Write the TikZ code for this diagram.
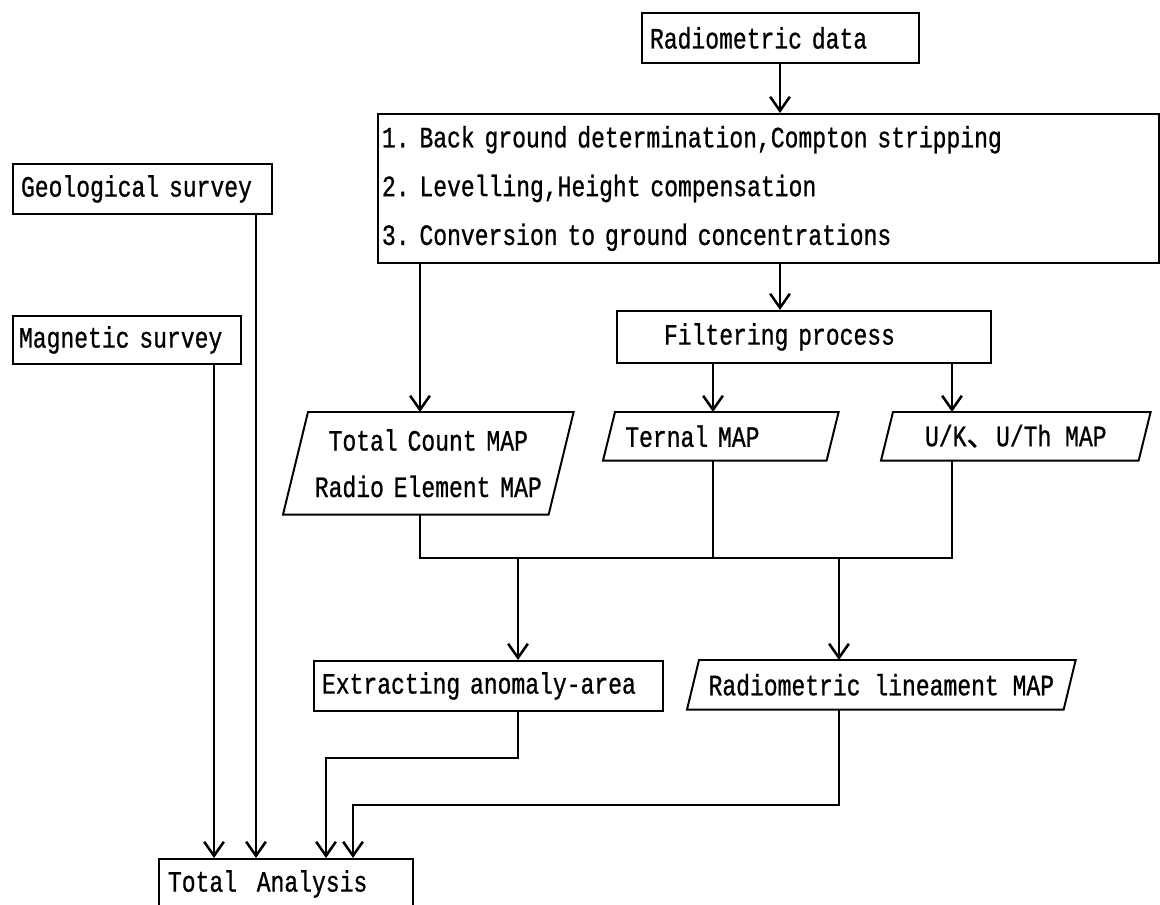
\documentclass[tikz,border=0pt]{standalone}
\usepackage{fontspec}
\usetikzlibrary{arrows.meta,calc}
\newfontfamily\diag[FakeStretch=0.78,FakeBold=0.8]{Liberation Mono}
\newfontfamily\cjk[FakeBold=0.8]{Noto Sans CJK JP}
\newcommand\paral[2]{\draw[boxline] ($(#1.north west)+(#2,0)$) -- (#1.north east) -- ($(#1.south east)-(#2,0)$) -- (#1.south west) -- cycle;}
\begin{document}
\begin{tikzpicture}[x=0.025cm,y=-0.025cm,
 tx/.style={font=\diag\fontsize{21pt}{25pt}\selectfont},
 bx/.style={tx, draw, line width=1.4pt, anchor=north west, inner ysep=0pt},
 pbox/.style={tx, draw=none, anchor=north west, inner ysep=0pt},
 boxline/.style={line width=1.4pt, line join=miter},
 ln/.style={line width=1.8pt},
 arr/.style={ln, -{Straight Barb[length=10pt,width=14pt]}}]

\useasboundingbox (0,0) rectangle (1160,905);
\fill[white] (0,0) rectangle (1160,905);
\clip (0,0) rectangle (1160,905);

\node[bx, minimum height=1.25cm, text width=6.525cm, inner xsep=0.2cm, align=left] (rd) at (641,12) {Radiometric data};
\node[bx, font=\diag\fontsize{21pt}{34.7pt}\selectfont, minimum height=3.725cm, text width=19.325cm, inner xsep=0.1cm, align=left] (proc) at (377,113) {1.~Back ground determination,Compton stripping\\2.~Levelling,Height compensation\\3.~Conversion to ground concentrations};
\node[bx, minimum height=1.25cm, text width=6.075cm, inner xsep=0.2cm, align=left] (geo) at (12,163) {Geological survey};
\node[bx, minimum height=1.2cm, text width=5.4cm, inner xsep=0.15cm, align=left] (mag) at (12,315) {Magnetic survey};
\node[bx, minimum height=1.3cm, text width=7cm, inner xsep=1.175cm, align=left] (filt) at (616,310) {Filtering process};
\node[pbox, minimum height=2.55cm, text width=7.25cm, inner xsep=0pt, align=center, font=\diag\fontsize{21pt}{33pt}\selectfont] (tc) at (283,412) {Total Count MAP\\Radio Element MAP};
\node[pbox, minimum height=1.2cm, text width=4.775cm, inner xsep=0.55cm, align=left] (ter) at (603,412) {Ternal MAP};
\node[pbox, minimum width=6.725cm, minimum height=1.2cm, inner xsep=0pt] (uk) at (881,412) {U/K{\cjk 、}U/Th MAP};
\node[bx, minimum height=1.25cm, text width=8.325cm, inner xsep=0.2cm, align=left] (ext) at (313,660) {Extracting anomaly-area};
\node[pbox, minimum width=9.7cm, minimum height=1.225cm, inner xsep=0pt] (lin) at (687,660) {Radiometric lineament MAP};
\node[bx, minimum height=1.25cm, text width=5.9cm, inner xsep=0.225cm, align=left] (tot) at (158,858) {Total~~Analysis};

\paral{tc}{25}
\paral{ter}{12}
\paral{uk}{12}
\paral{lin}{12}

\coordinate (fx) at (780,0);
\coordinate (gx) at (256,0);
\coordinate (mx) at (214,0);
\coordinate (jL) at (420,558);
\coordinate (jR) at (952,558);
\coordinate (jT) at (713,558);
\coordinate (jE) at (518,558);
\coordinate (jN) at (839,558);
\coordinate (e1) at (518,758);
\coordinate (e2) at (326,758);
\coordinate (l1) at (839,805);
\coordinate (l2) at (353,805);

\draw[arr] (rd.south -| fx) -- (proc.north -| fx);
\draw[arr] (proc.south -| jL) -- (tc.north -| jL);
\draw[arr] (proc.south -| fx) -- (filt.north -| fx);
\draw[arr] (filt.south -| jT) -- (ter.north -| jT);
\draw[arr] (filt.south -| jR) -- (uk.north -| jR);
\draw[ln] (tc.south -| jL) -- (jL) -- (jR) -- (uk.south -| jR);
\draw[ln] (ter.south -| jT) -- (jT);
\draw[arr] (jE) -- (ext.north -| jE);
\draw[arr] (jN) -- (lin.north -| jN);
\draw[arr] (ext.south -| e1) -- (e1) -- (e2) -- (tot.north -| e2);
\draw[arr] (lin.south -| l1) -- (l1) -- (l2) -- (tot.north -| l2);
\draw[arr] (geo.south -| gx) -- (tot.north -| gx);
\draw[arr] (mag.south -| mx) -- (tot.north -| mx);
\end{tikzpicture}
\end{document}
